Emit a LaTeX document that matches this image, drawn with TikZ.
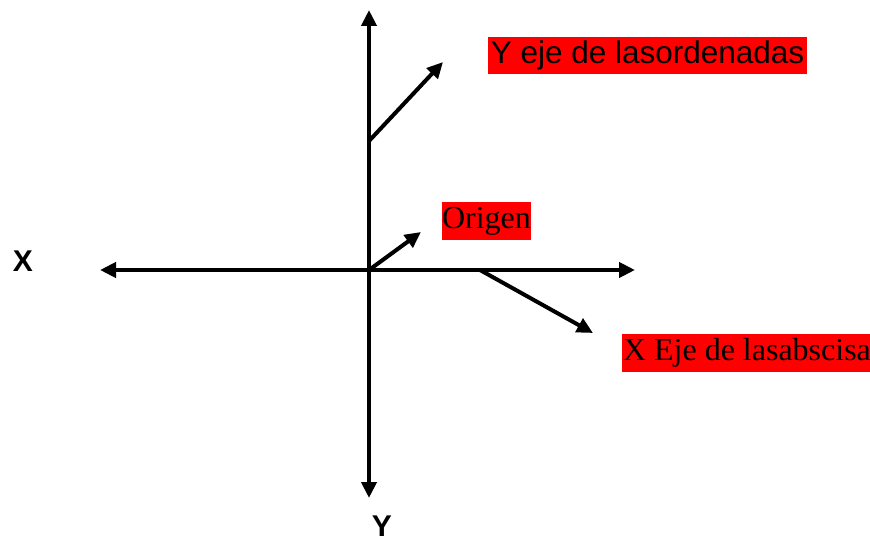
\documentclass[tikz,border=0pt]{standalone}
\usepackage{fontspec}
\setmainfont{Liberation Serif}
\newfontfamily\arialfont{Liberation Sans}
\usepackage{tikz}
\usetikzlibrary{arrows.meta,positioning}
\definecolor{TagRed}{RGB}{255,0,0}
\begin{document}
\begin{tikzpicture}[x=1pt,y=-1pt,>={Triangle[length=16pt,width=15pt]},line width=4pt]
\tikzset{tag/.style={fill=TagRed,inner sep=0pt,minimum height=37pt,anchor=north west,font=\fontsize{32}{36}\selectfont},axislabel/.style={font=\arialfont\bfseries\fontsize{30}{34}\selectfont,inner sep=0pt}}
\useasboundingbox (0,0) rectangle (870,540);
\coordinate (origin) at (369,270);
\coordinate (xleft) at (100,270);
\coordinate (xright) at (635,270);
\coordinate (ytop) at (369,10);
\coordinate (ybottom) at (369,498);
\coordinate (ystart) at (369,141);
\coordinate (yend) at (443,62);
\coordinate (oend) at (421,232);
\coordinate (xstart) at (480,270);
\coordinate (xend) at (593,333);
\draw[<->] (xleft) -- (xright);
\draw[<->] (ytop) -- (ybottom);
\draw[->] (ystart) -- (yend);
\draw[->] (origin) -- (oend);
\draw[->] (xstart) -- (xend);
\node[tag,minimum width=319pt,font=\arialfont\fontsize{31.5}{36}\selectfont] (ytag) at (486,35) {Y eje de lasordenadas};
\node[tag,minimum width=89pt,minimum height=38pt] (otag) at (440,200) {Origen};
\node[tag,minimum height=38pt,inner xsep=1pt] (xtag) at (620,332) {X Eje de lasabscisa};
\node[axislabel] (xname) at (23,261) {X};
\node[axislabel] (yname) at (382,526) {Y};
\end{tikzpicture}
\end{document}
